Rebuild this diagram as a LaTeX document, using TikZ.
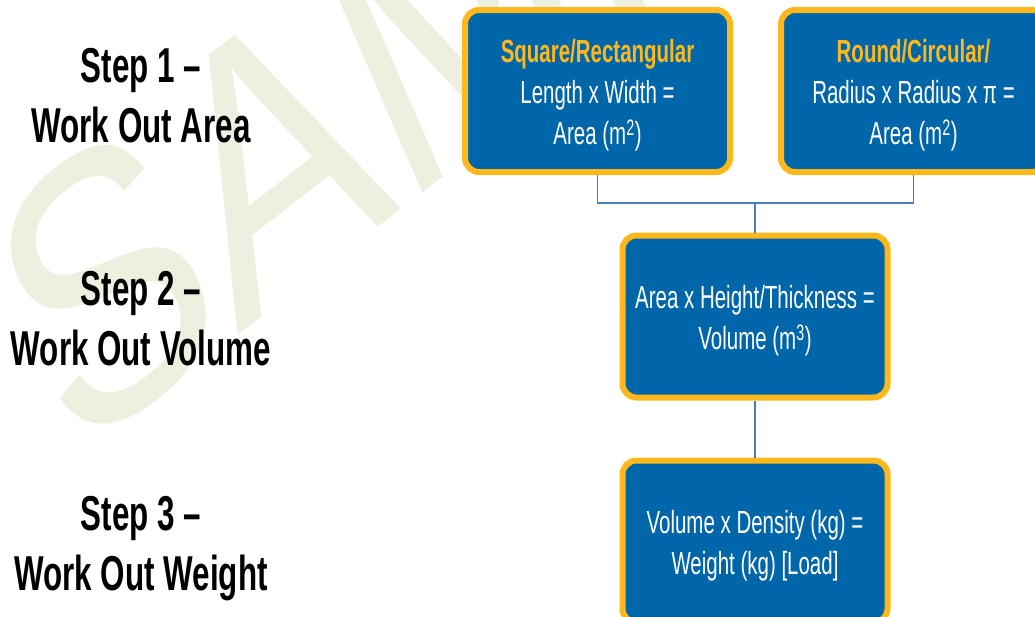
\documentclass[tikz,border=0pt]{standalone}
\usepackage{fontspec}
\newfontfamily\narrowfont[FakeStretch=0.64]{Liberation Sans}
\newfontfamily\markfont{Liberation Sans}
\usetikzlibrary{positioning}
\definecolor{boxblue}{HTML}{0066AA}
\definecolor{boxgold}{HTML}{FFB81C}
\definecolor{linkblue}{HTML}{4A7EBB}
\definecolor{markgreen}{HTML}{EBF1DE}
\newcommand{\boxstrut}{\rule{0pt}{31pt}}
\tikzstyle{calcbox} = [
    draw=boxgold,
    line width=6pt,
    fill=boxblue,
    rounded corners=14pt,
    minimum width=265pt,
    minimum height=162pt,
    text=white,
    align=center,
    inner sep=0pt,
    font=\narrowfont\fontsize{32}{41}\selectfont
]
\tikzstyle{steplabel} = [
    align=center,
    anchor=base,
    inner sep=0pt,
    font=\narrowfont\bfseries\fontsize{49}{60}\selectfont
]
\tikzstyle{link} = [
    draw=linkblue,
    line width=1.3pt
]
\begin{document}
\begin{tikzpicture}[x=1pt, y=-1pt]
    \useasboundingbox (0,0) rectangle (1035,616);
    \clip (0,0) rectangle (1035,616);

    % Watermark
    \begin{scope}[xscale=0.75]
        \node[anchor=base west, rotate=30, transform shape, inner sep=0pt, text=markgreen,
              font=\markfont\fontsize{380}{380}\selectfont] (mark) at (97,462) {SAMPLE};
    \end{scope}

    % Step labels
    \node[steplabel] (step1) at (141,142) {Step 1 –\\Work Out Area};
    \node[steplabel] (step2) at (141,365) {Step 2 –\\Work Out Volume};
    \node[steplabel] (step3) at (141,590) {Step 3 –\\Work Out Weight};

    % Area boxes
    \node[calcbox] (sqbox) at (597.5,91) {%
        \boxstrut{\bfseries\color{boxgold}Square/Rectangular}\\
        Length x Width =\\
        Area (m\textsuperscript{2})};
    \node[calcbox] (rndbox) at (913.5,91) {%
        \boxstrut{\bfseries\color{boxgold}Round/Circular/}\\
        Radius x Radius x π =\\
        Area (m\textsuperscript{2})};

    % Volume and weight boxes
    \node[calcbox] (volbox) at (755,316.5) {%
        \boxstrut Area x Height/Thickness =\\
        Volume (m\textsuperscript{3})};
    \node[calcbox, below=57pt of volbox] (wtbox) {%
        \boxstrut Volume x Density (kg) =\\
        Weight (kg) [Load]};

    % Connectors
    \coordinate (join) at (755,203);
    \draw[link] (sqbox.south) |- (join);
    \draw[link] (rndbox.south) |- (join);
    \draw[link] (join) -- (volbox.north);
    \draw[link] (volbox.south) -- (wtbox.north);
\end{tikzpicture}
\end{document}
